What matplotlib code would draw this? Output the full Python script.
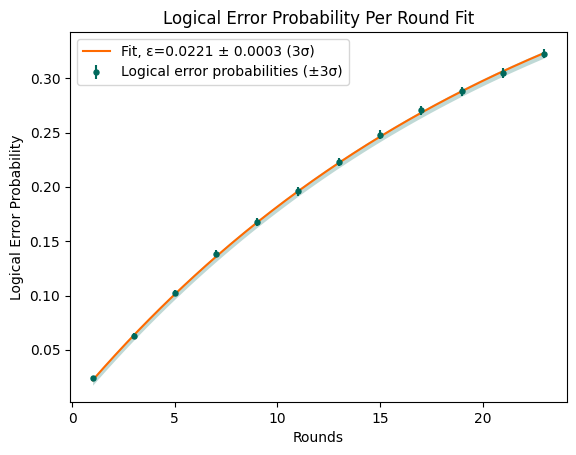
import numpy as np
import matplotlib
matplotlib.use("Agg")
import matplotlib.pyplot as plt

# --- data ---
rounds = [1, 3, 5, 7, 9, 11, 13, 15, 17, 19, 21, 23]
probs = [0.0238, 0.0632, 0.1024, 0.1386, 0.1680, 0.1958,
         0.2228, 0.2478, 0.2705, 0.2880, 0.3046, 0.3226]
errs = [0.0015, 0.0023, 0.0029, 0.0033, 0.0036, 0.0038,
        0.0040, 0.0041, 0.0042, 0.0043, 0.0044, 0.0044]
eps = 0.0221
eps_err = 0.0003

teal = "#00695c"
orange = "#ff6a00"

fig = plt.figure(figsize=(5.76, 4.55), dpi=100)
ax = fig.add_axes([70 / 576, 1 - 402 / 455, 497 / 576, 370 / 455])

# fit curve p(r) = (1 - (1 - 2 eps)^r) / 2
r_fine = np.linspace(rounds[0], rounds[-1], 200)
fit = 0.5 * (1 - (1 - 2 * eps) ** r_fine)

ax.fill_between(r_fine, fit - 0.0045, fit + 0.0018, color=teal, alpha=0.25, lw=0)
ax.plot(r_fine, fit, color=orange, lw=1.5,
        label=f"Fit, ε={eps} ± {eps_err} (3σ)")
ax.errorbar(rounds, probs, yerr=errs, fmt="o", ms=3.6, color=teal,
            label="Logical error probabilities (±3σ)")

ax.set_title("Logical Error Probability Per Round Fit")
ax.set_xlabel("Rounds")
ax.set_ylabel("Logical Error Probability")
ax.legend(loc="upper left")

fig.savefig("out.png", dpi=100)
